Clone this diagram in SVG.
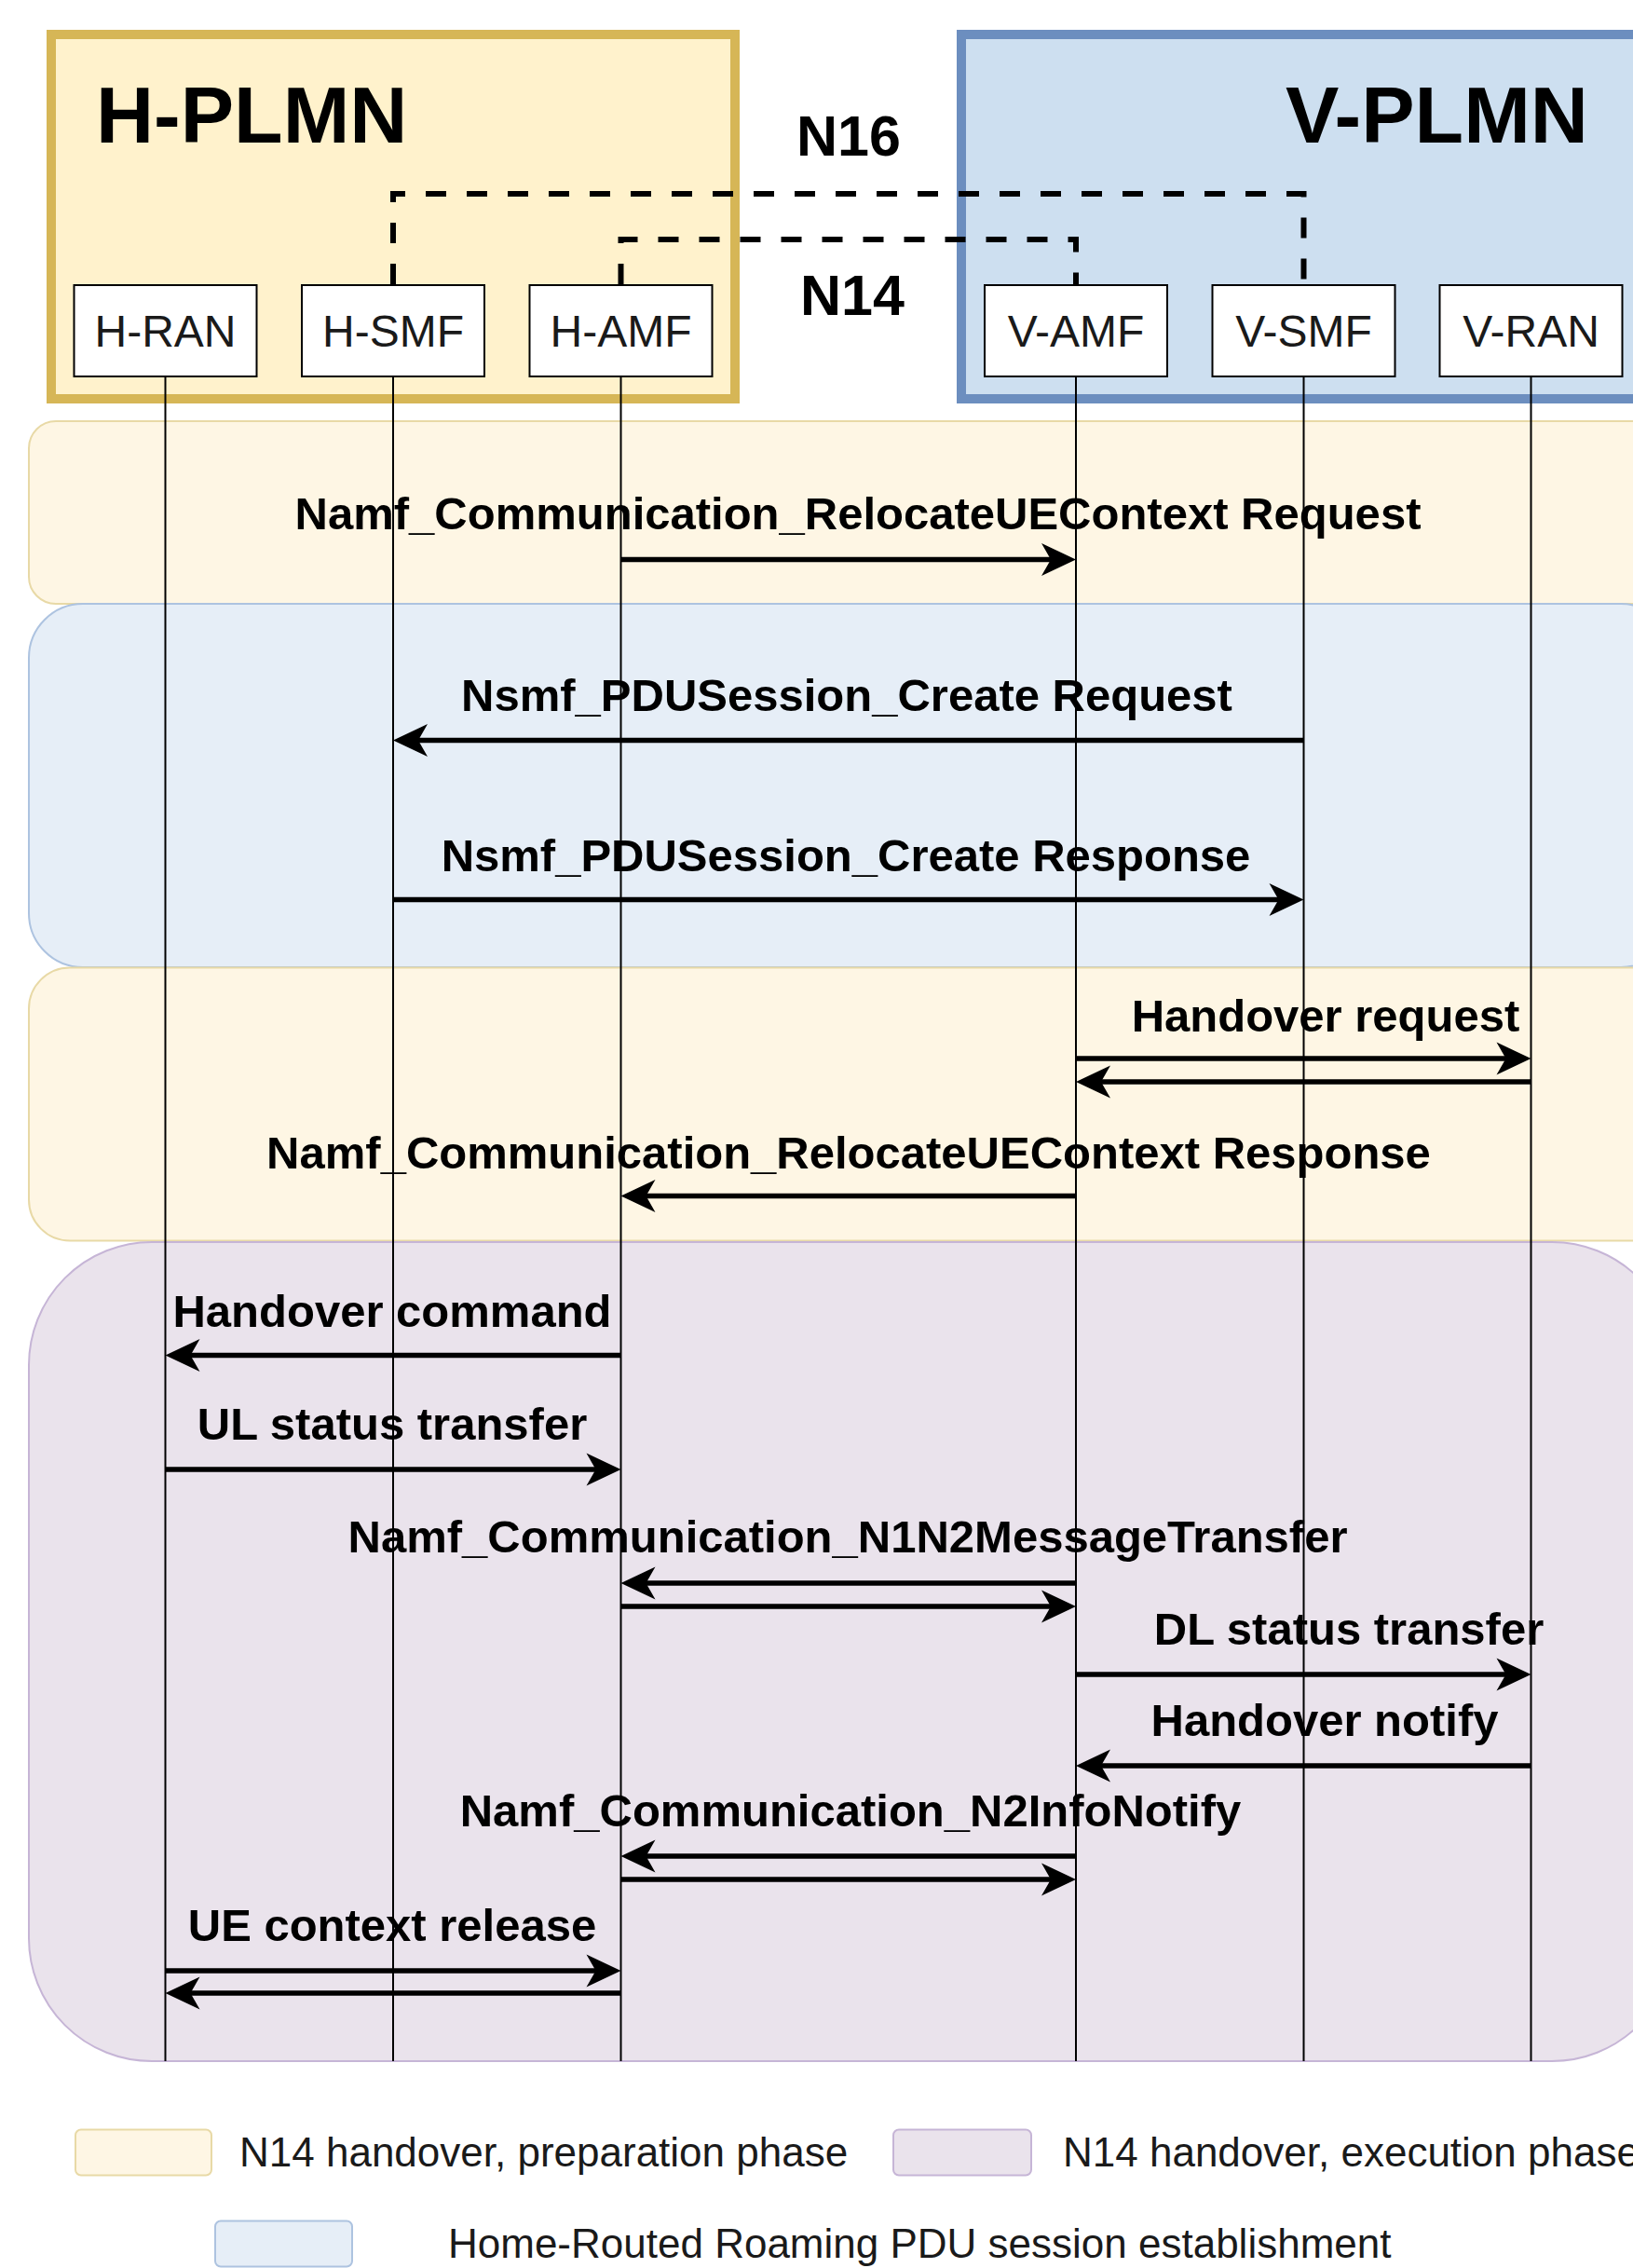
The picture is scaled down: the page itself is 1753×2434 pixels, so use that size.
<svg xmlns="http://www.w3.org/2000/svg" width="1753" height="2434" viewBox="0 0 1753 2434">
<style>
  .title { font-family: "Liberation Sans", Arial, sans-serif; font-weight: bold; font-size: 86px; fill: #000; }
  .iface { font-family: "Liberation Sans", Arial, sans-serif; font-weight: bold; font-size: 61px; fill: #000; text-anchor: middle; }
  .node rect { fill: #ffffff; stroke: #000; stroke-width: 2; }
  .node text { font-family: "Liberation Sans", Arial, sans-serif; font-size: 48px; fill: #1a1a1a; text-anchor: middle; }
  .life { stroke: #000; stroke-width: 2; fill: none; }
  .dash { stroke: #000; stroke-width: 6; fill: none; stroke-dasharray: 22 22; }
  .msg { stroke: #000; stroke-width: 5.5; fill: none; marker-end: url(#ah); }
  .lbl { font-family: "Liberation Sans", Arial, sans-serif; font-weight: bold; font-size: 49px; fill: #000; text-anchor: middle; }
  .leg { font-family: "Liberation Sans", Arial, sans-serif; font-size: 44px; fill: #1a1a1a; }
  .ph-y { fill: #fef6e4; stroke: #e8d9a6; stroke-width: 2; }
  .ph-b { fill: #e6eef7; stroke: #adc3e0; stroke-width: 2; }
  .ph-p { fill: #eae3ec; stroke: #c6b5d6; stroke-width: 2; }
</style>
<defs>
  <marker id="ah" markerUnits="userSpaceOnUse" orient="auto" overflow="visible" markerWidth="40" markerHeight="40" refX="0" refY="0">
    <path d="M20,0 L-17,-17.5 L-7,0 L-17,17.5 Z" fill="#000"/>
  </marker>
</defs>

<!-- Phase backgrounds -->
<g id="phases">
  <rect id="phase-prep-1" class="ph-y" x="31" y="452" width="1767" height="196" rx="29" ry="29"/>
  <rect id="phase-pdu" class="ph-b" x="31" y="648" width="1767" height="390" rx="58" ry="58"/>
  <rect id="phase-prep-2" class="ph-y" x="31" y="1038.5" width="1767" height="293" rx="44" ry="44"/>
  <rect id="phase-exec" class="ph-p" x="31" y="1333" width="1767" height="879" rx="132" ry="132"/>
</g>

<!-- PLMN containers -->
<g id="h-plmn">
  <rect x="55" y="37" width="734" height="391" fill="#fff2cc" stroke="#d6b656" stroke-width="10"/>
  <text class="title" x="103" y="153">H-PLMN</text>
</g>
<g id="v-plmn">
  <rect x="1032" y="37" width="800" height="391" fill="#cddff0" stroke="#6c8ebf" stroke-width="10"/>
  <text class="title" x="1380" y="153">V-PLMN</text>
</g>

<!-- Lifelines and messages -->
<g id="connectors">
  <g id="lifelines">
    <line class="life" x1="177.5" y1="404" x2="177.5" y2="2212"/>
    <line class="life" x1="422" y1="404" x2="422" y2="2212"/>
    <line class="life" x1="666.5" y1="404" x2="666.5" y2="2212"/>
    <line class="life" x1="1155" y1="404" x2="1155" y2="2212"/>
    <line class="life" x1="1399.5" y1="404" x2="1399.5" y2="2212"/>
    <line class="life" x1="1643.5" y1="404" x2="1643.5" y2="2212"/>
  </g>
  <g id="interfaces">
    <path class="dash" d="M422,305 L422,208 L1399.5,208 L1399.5,305"/>
    <path class="dash" d="M666.5,305 L666.5,257 L1155,257 L1155,305"/>
  </g>
  <g id="messages">
    <line class="msg" x1="666.5" y1="600.5" x2="1135" y2="600.5"/>
    <line class="msg" x1="1399.5" y1="794.5" x2="442" y2="794.5"/>
    <line class="msg" x1="422" y1="965.5" x2="1379.5" y2="965.5"/>
    <line class="msg" x1="1155" y1="1136" x2="1623.5" y2="1136"/>
    <line class="msg" x1="1643.5" y1="1161" x2="1175" y2="1161"/>
    <line class="msg" x1="1155" y1="1283.5" x2="686.5" y2="1283.5"/>
    <line class="msg" x1="666.5" y1="1454.5" x2="197.5" y2="1454.5"/>
    <line class="msg" x1="177.5" y1="1577" x2="646.5" y2="1577"/>
    <line class="msg" x1="1155" y1="1699" x2="686.5" y2="1699"/>
    <line class="msg" x1="666.5" y1="1724" x2="1135" y2="1724"/>
    <line class="msg" x1="1155" y1="1797" x2="1623.5" y2="1797"/>
    <line class="msg" x1="1643.5" y1="1895" x2="1175" y2="1895"/>
    <line class="msg" x1="1155" y1="1992" x2="686.5" y2="1992"/>
    <line class="msg" x1="666.5" y1="2017" x2="1135" y2="2017"/>
    <line class="msg" x1="177.5" y1="2115" x2="646.5" y2="2115"/>
    <line class="msg" x1="666.5" y1="2139" x2="197.5" y2="2139"/>
  </g>
</g>

<!-- Interface labels -->
<text class="iface" x="911" y="167">N16</text>
<text class="iface" x="915" y="338">N14</text>

<!-- Nodes -->
<g id="H-RAN" class="node"><rect x="79.5" y="306" width="196" height="98"/><text x="177.5" y="372">H-RAN</text></g>
<g id="H-SMF" class="node"><rect x="324" y="306" width="196" height="98"/><text x="422" y="372">H-SMF</text></g>
<g id="H-AMF" class="node"><rect x="568.5" y="306" width="196" height="98"/><text x="666.5" y="372">H-AMF</text></g>
<g id="V-AMF" class="node"><rect x="1057" y="306" width="196" height="98"/><text x="1155" y="372">V-AMF</text></g>
<g id="V-SMF" class="node"><rect x="1301.5" y="306" width="196" height="98"/><text x="1399.5" y="372">V-SMF</text></g>
<g id="V-RAN" class="node"><rect x="1545.5" y="306" width="196" height="98"/><text x="1643.5" y="372">V-RAN</text></g>

<!-- Message labels -->
<g id="labels">
  <text class="lbl" x="921" y="568">Namf_Communication_RelocateUEContext Request</text>
  <text class="lbl" x="909" y="763">Nsmf_PDUSession_Create Request</text>
  <text class="lbl" x="908" y="935">Nsmf_PDUSession_Create Response</text>
  <text class="lbl" x="1423" y="1107">Handover request</text>
  <text class="lbl" x="911" y="1254">Namf_Communication_RelocateUEContext Response</text>
  <text class="lbl" x="421" y="1424">Handover command</text>
  <text class="lbl" x="421" y="1545">UL status transfer</text>
  <text class="lbl" x="910" y="1666">Namf_Communication_N1N2MessageTransfer</text>
  <text class="lbl" x="1448" y="1765">DL status transfer</text>
  <text class="lbl" x="1422" y="1863">Handover notify</text>
  <text class="lbl" x="913" y="1960">Namf_Communication_N2InfoNotify</text>
  <text class="lbl" x="421" y="2083">UE context release</text>
</g>

<!-- Legend -->
<g id="legend">
  <rect class="ph-y" x="81" y="2285.5" width="146" height="49" rx="6" ry="6"/>
  <text class="leg" x="257" y="2325">N14 handover, preparation phase</text>
  <rect class="ph-p" x="959" y="2285.5" width="148" height="49" rx="6" ry="6"/>
  <text class="leg" x="1141" y="2325">N14 handover, execution phase</text>
  <rect class="ph-b" x="231" y="2383.5" width="147" height="49" rx="6" ry="6"/>
  <text class="leg" x="481" y="2423">Home-Routed Roaming PDU session establishment</text>
</g>
</svg>
